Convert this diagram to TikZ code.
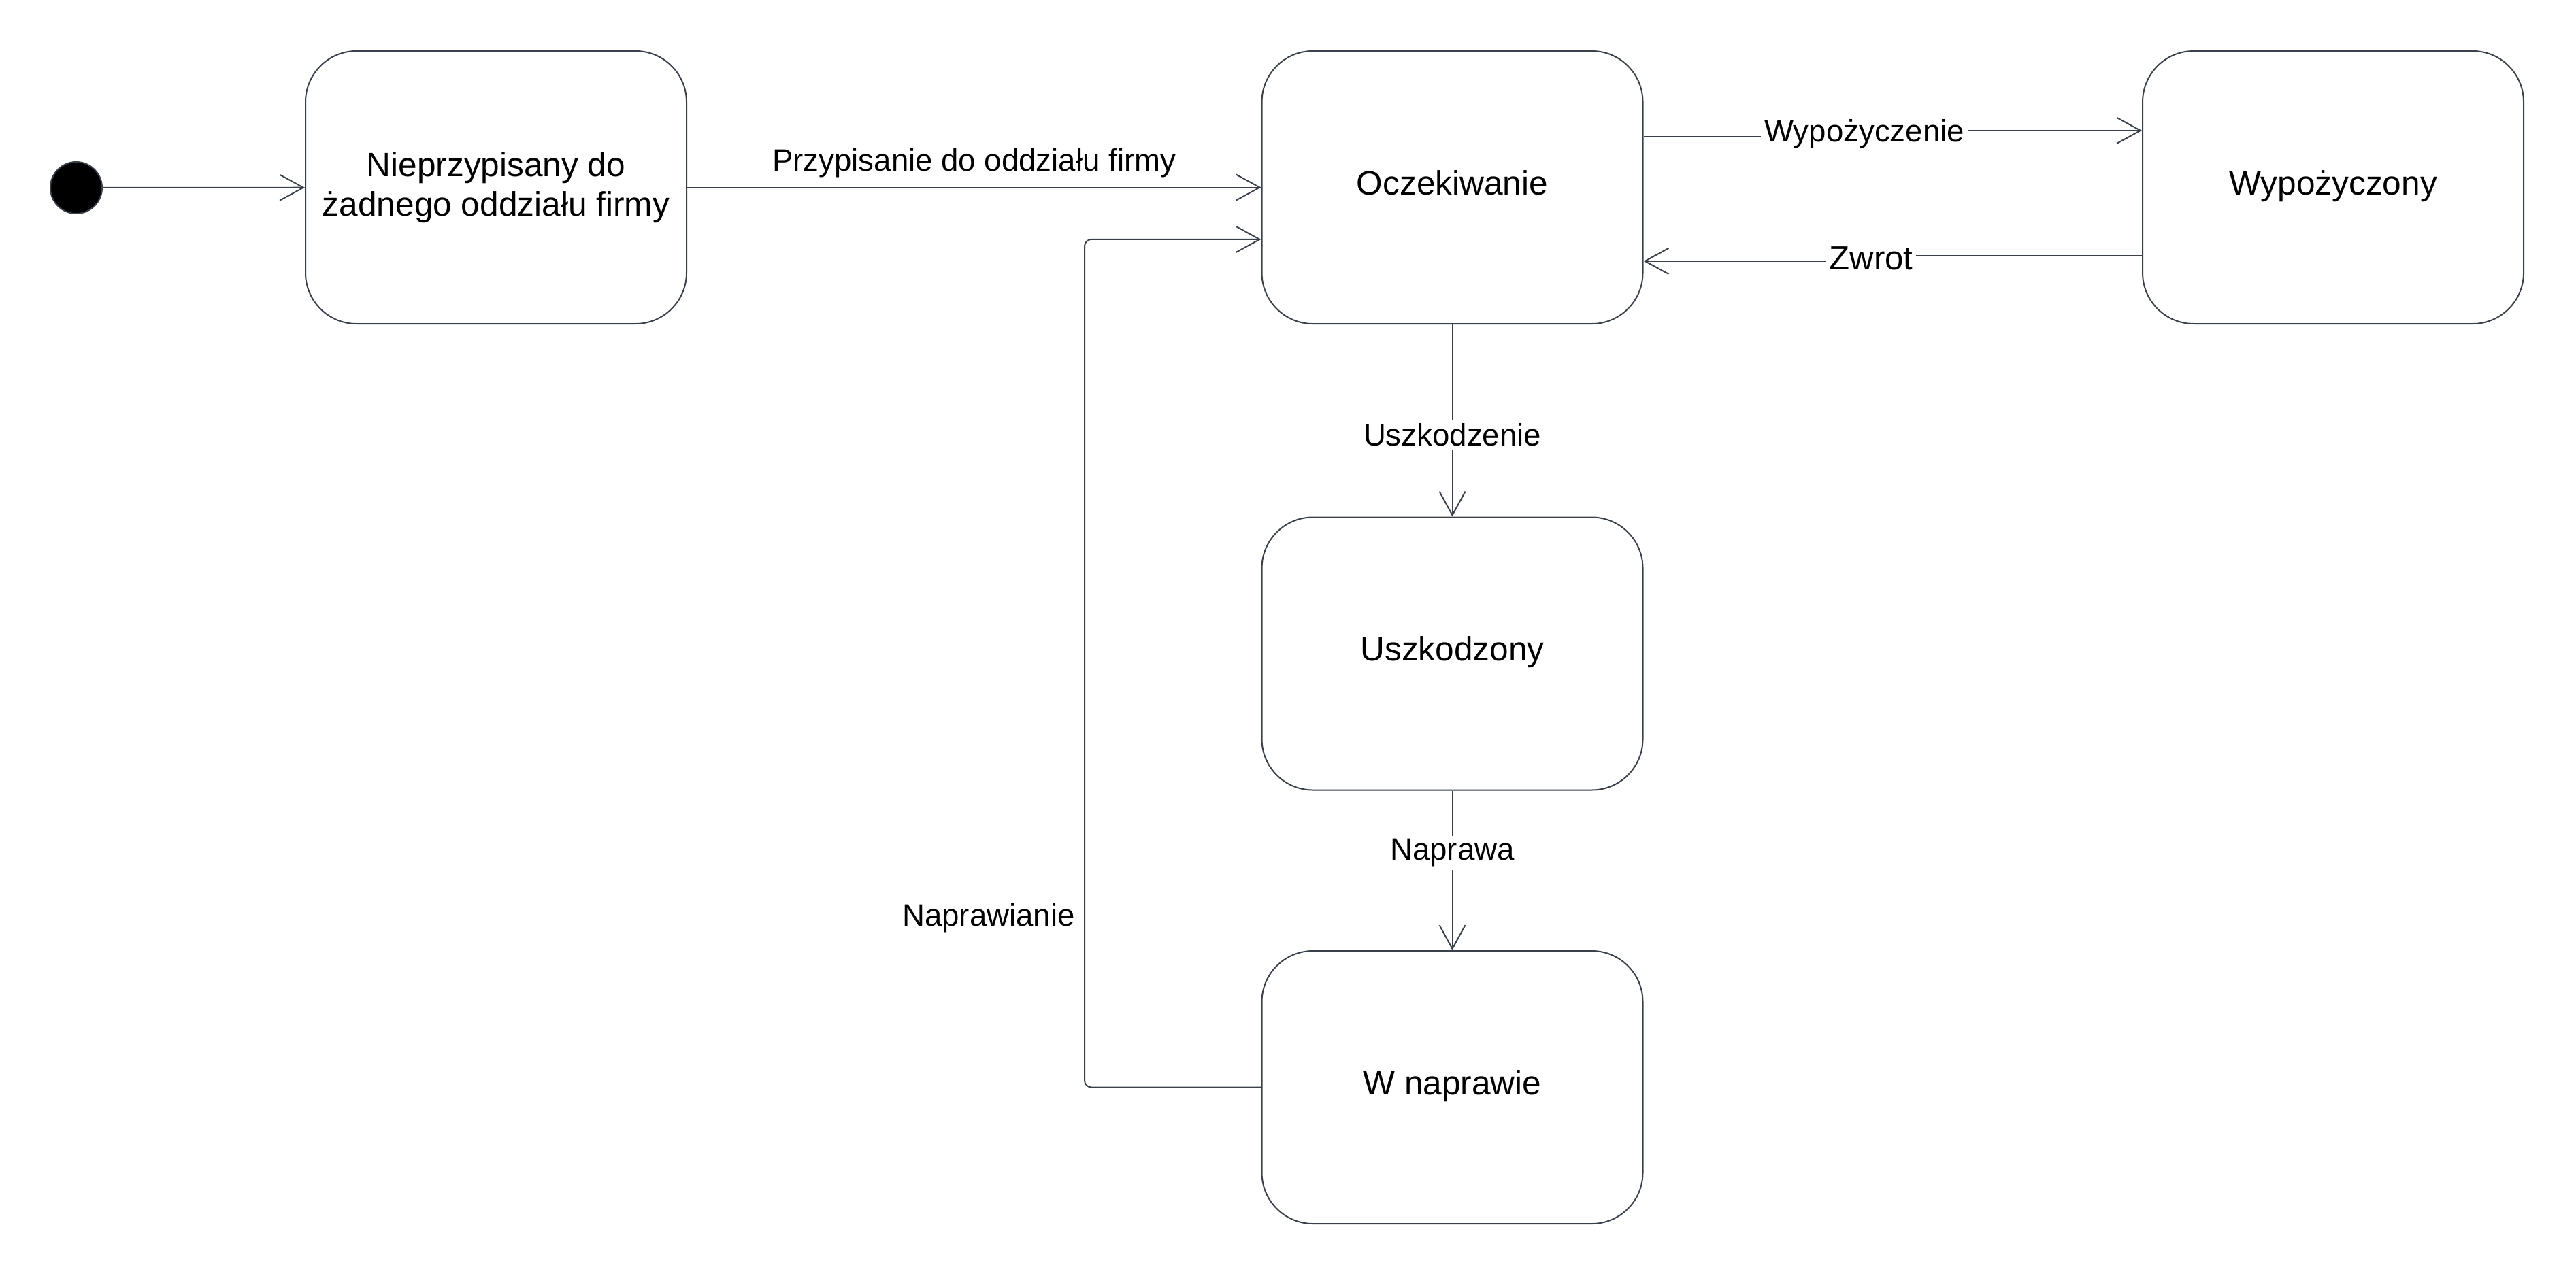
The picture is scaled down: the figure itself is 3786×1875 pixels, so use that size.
\documentclass[tikz,border=0pt]{standalone}
\usepackage{fontspec}
\setmainfont{Liberation Sans}
\usetikzlibrary{arrows.meta}
\definecolor{edge}{RGB}{59,65,75}

\begin{document}
\begin{tikzpicture}[x=0.25pt, y=-0.25pt,
  init/.style={circle, fill=black, draw=edge, line width=0.5pt, minimum size=19pt, inner sep=0pt},
  state/.style={draw=edge, line width=0.5pt, rounded corners=18.75pt,
    minimum width=140pt, minimum height=100.25pt, align=center,
    font=\fontsize{12.4}{14.5}\selectfont},
  single/.style={text height=8.9pt, text depth=3.5pt},
  trans/.style={draw=edge, line width=0.5pt, -{Straight Barb[length=8.7pt,width=9.5pt]}},
  lbl/.style={font=\fontsize{11.4}{13}\selectfont, fill=white, inner sep=1.2pt}]

  \newcommand\RowY{275.5};
  \newcommand\ColX{2134.5};

  \useasboundingbox (0,0) rectangle (3786,1875);

  % states
  \node[init] (start) at (112,276) {};
  \node[state] (nieprz) at (729,\RowY) {Nieprzypisany do\\żadnego oddziału firmy};
  \node[state,single] (ocz) at (\ColX,\RowY) {Oczekiwanie};
  \node[state,single] (wyp) at (3429,\RowY) {Wypożyczony};
  \node[state,single] (uszk) at (\ColX,961) {Uszkodzony};
  \node[state,single] (napr) at (\ColX,1598.5) {W naprawie};

  % transitions
  \draw[trans] (start) -- (nieprz);
  \draw[trans] (nieprz) -- node[above, font=\fontsize{11.4}{13}\selectfont] {Przypisanie do oddziału firmy} (ocz);

  \coordinate (wa) at ([yshift=18.6pt]ocz.east);
  \coordinate (wb) at ([yshift=20.9pt]wyp.west);
  \coordinate (wjog) at (2740,0);
  \draw[trans] (wa) -- (wa -| wjog) -- node[lbl] {Wypożyczenie} (wb -| wjog) -- (wb);

  \coordinate (za) at ([yshift=-25.1pt]wyp.west);
  \coordinate (zb) at ([yshift=-27.1pt]ocz.east);
  \coordinate (zjog) at (2750,0);
  \draw[trans] (za) -- (za -| zjog) -- node[lbl, font=\fontsize{12.3}{14}\selectfont] {Zwrot} (zb -| zjog) -- (zb);

  \draw[trans] (ocz) -- node[lbl, pos=0.575] {Uszkodzenie} (uszk);
  \draw[trans] (uszk) -- node[lbl, pos=0.39] {Naprawa} (napr);

  \coordinate (back) at ([yshift=-19.1pt]ocz.west);
  \coordinate (bendx) at (1594,0);
  \draw[trans, rounded corners=2.5pt] (napr.west) -- (napr.west -| bendx)
    -- node[pos=0.2, left, font=\fontsize{11.4}{13}\selectfont] {Naprawianie} (bendx |- back) -- (back);

\end{tikzpicture}
\end{document}
